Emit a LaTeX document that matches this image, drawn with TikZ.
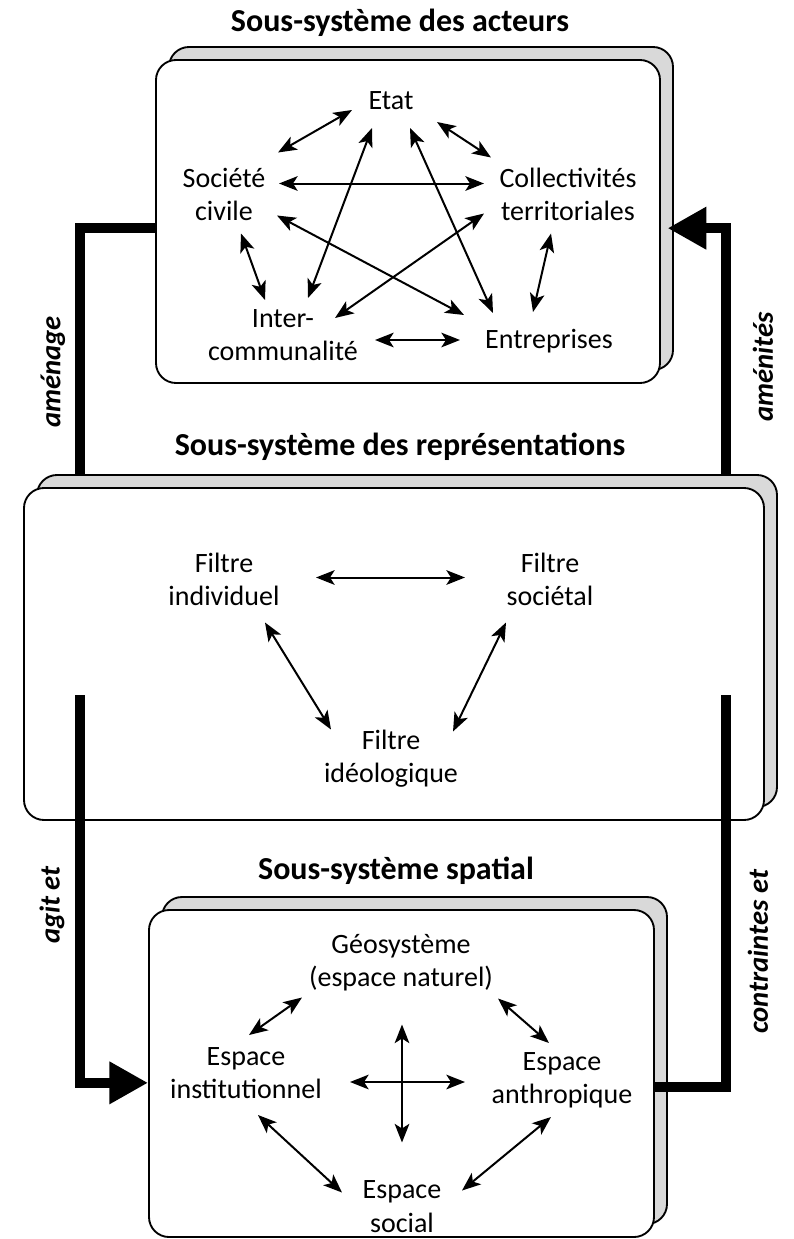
\documentclass[tikz,border=0pt]{standalone}
\usepackage{fontspec}
\setmainfont{Carlito}
\usepackage{tikz}
\usetikzlibrary{arrows.meta}

\begin{document}
\begin{tikzpicture}[x=0.75pt, y=-0.75pt,
    backbox/.style={draw=black, line width=1.4pt, fill=black!15, rounded corners=15pt, inner sep=0pt},
    frontbox/.style={draw=black, line width=1.4pt, fill=white, rounded corners=15pt, inner sep=0pt},
    actor/.style={align=center, inner sep=1pt, font=\fontsize{21pt}{25pt}\selectfont},
    headline/.style={font=\bfseries\fontsize{24pt}{28pt}\selectfont},
    flowlabel/.style={rotate=90, font=\bfseries\itshape\fontsize{21.5pt}{25pt}\selectfont},
    flowline/.style={line width=7.5pt},
    bigtip/.style={-{Triangle[length=29pt,width=30pt]}},
    link/.style={<->, line width=1.5pt},
    >={Stealth[length=14pt,width=11pt,inset=3.5pt]}]
        \useasboundingbox (0,0) rectangle (793,1239);

        % les trois cadres
        \node[backbox, minimum width=378pt, minimum height=242.25pt]    (acteursback)  at (421,208.5) {};
        \node[frontbox, minimum width=378pt, minimum height=242.25pt]   (acteurs)      at (408,221.5) {};
        \node[backbox, minimum width=555pt, minimum height=249pt]       (reprback)     at (407,641) {};
        \node[frontbox, minimum width=555pt, minimum height=249pt]      (repr)         at (394,654) {};
        \node[backbox, minimum width=378.75pt, minimum height=245.25pt] (spatialback)  at (414.5,1060.5) {};
        \node[frontbox, minimum width=378.75pt, minimum height=245.25pt](spatial)      at (401.5,1073.5) {};

        \node[headline] (titreacteurs) at (400,23)  {Sous-système des acteurs};
        \node[headline] (titrerepr)    at (400,447) {Sous-système des représentations};
        \node[headline] (titrespatial) at (396,871) {Sous-système spatial};

        % acteurs
        \node[actor] (etat)     at (391,101)   {Etat};
        \node[actor] (societe)  at (224,194.5) {Société\\civile};
        \node[actor] (collect)  at (568,194.5) {Collectivités\\territoriales};
        \node[actor] (inter)    at (283,335)   {Inter-\\communalité};
        \node[actor] (entre)    at (549,341)   {Entreprises};

        \path[link] ([shift={(54,-42)}]societe.center) edge ([shift={(-39,9)}]etat.center);
        \path[link] ([shift={(46,21)}]etat.center) edge ([shift={(-77,-37)}]collect.center);
        \path[link] ([shift={(55,-11)}]societe.center) edge ([shift={(-84,-11)}]collect.center);
        \path[link] ([shift={(53,21)}]societe.center) edge ([shift={(-85,-26)}]entre.center);
        \path[link] ([shift={(52,-17)}]inter.center) edge ([shift={(-84,19)}]collect.center);
        \path[link] ([shift={(-19,27)}]etat.center) edge ([shift={(25,-37)}]inter.center);
        \path[link] ([shift={(19,27)}]etat.center) edge ([shift={(-56,-28)}]entre.center);
        \path[link] ([shift={(17,39)}]societe.center) edge ([shift={(-18,-35)}]inter.center);
        \path[link] ([shift={(-17,39)}]collect.center) edge ([shift={(-16,-29)}]entre.center);
        \path[link] ([shift={(92,5)}]inter.center) edge ([shift={(-89,-1)}]entre.center);

        % representations
        \node[actor] (individuel) at (224,579.5) {Filtre\\individuel};
        \node[actor] (societal)   at (550,579.5) {Filtre\\sociétal};
        \node[actor] (ideo)       at (391,758.5) {Filtre\\idéologique};

        \path[link] ([shift={(92,-2)}]individuel.center) edge ([shift={(-85,-2)}]societal.center);
        \path[link] ([shift={(41,43)}]individuel.center) edge ([shift={(-60,-29)}]ideo.center);
        \path[link] ([shift={(-44,43)}]societal.center) edge ([shift={(62,-27)}]ideo.center);

        % espace
        \node[actor] (geo)   at (401,962.5) {Géosystème\\(espace naturel)};
        \node[actor] (inst)  at (246,1073)  {Espace\\institutionnel};
        \node[actor] (anthr) at (562,1080)  {Espace\\anthropique};
        \node[actor] (social) at (402,1206.5) {Espace\\social};

        \path[link] ([shift={(-99,35)}]geo.center) edge ([shift={(3,-38)}]inst.center);
        \path[link] ([shift={(97,36)}]geo.center) edge ([shift={(-13,-37)}]anthr.center);
        \path[link] ([shift={(12,42)}]inst.center) edge ([shift={(-60,-14)}]social.center);
        \path[link] ([shift={(-11,37)}]anthr.center) edge ([shift={(60,-16)}]social.center);
        \path[link] ([shift={(104,9)}]inst.center) edge ([shift={(-97,2)}]anthr.center);
        \path[link] ([shift={(1,62)}]geo.center) edge ([shift={(0,-64)}]social.center);

        % grandes fleches
        \coordinate (amenagefoot)     at (79.5,475);
        \coordinate (amenitesfoot)    at (725.5,475);
        \coordinate (agithead)        at (79.5,695);
        \coordinate (contrainteshead) at (725.5,695);

        \draw[flowline] ([yshift=-5pt]acteurs.west) -| (amenagefoot);
        \draw[flowline, bigtip] (amenitesfoot) |- ([xshift=5pt,yshift=-5pt]acteurs.east);
        \draw[flowline, bigtip] (agithead) |- ([yshift=-7pt]spatial.west);
        \draw[flowline] ([yshift=-10pt]spatial.east) -| (contrainteshead);

        \node[flowlabel] (amenage)     at (53,372)  {aménage};
        \node[flowlabel] (amenites)    at (763,367) {aménités};
        \node[flowlabel] (agit)        at (52,905)  {agit et};
        \node[flowlabel] (contraintes) at (758,952) {contraintes et};

    \end{tikzpicture}
\end{document}
